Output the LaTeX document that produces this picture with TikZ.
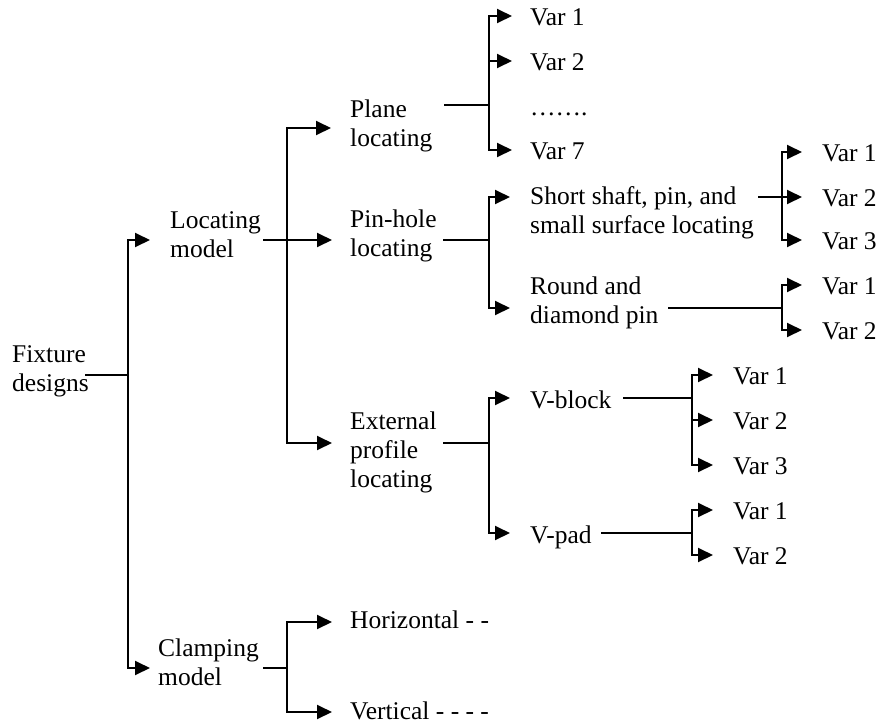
\documentclass[tikz,border=0pt]{standalone}
\usepackage{fontspec}
\setmainfont{Liberation Serif}
\usetikzlibrary{arrows.meta}
\begin{document}
\begin{tikzpicture}[x=1pt,y=-1pt,
  lbl/.style={anchor=base west,inner sep=0pt,align=left,font=\fontsize{25.5}{28.7}\selectfont},
  ln/.style={line width=1.9pt},
  arr/.style={ln,-{Triangle[length=15pt,width=14pt]}}]
\useasboundingbox (0,0) rectangle (881,723);
% ---- text nodes (y = baseline of last line)
\node[lbl] (fix) at (12,391) {Fixture\\designs};
\node[lbl] (loc) at (170,257) {Locating\\model};
\node[lbl] (clamp) at (158,685) {Clamping\\model};
\node[lbl] (plane) at (350,146) {Plane\\locating};
\node[lbl] (pin) at (350,256) {Pin-hole\\locating};
\node[lbl] (ext) at (350,487) {External\\profile\\locating};
\node[lbl] (horiz) at (350,628) {Horizontal - -};
\node[lbl] (vert) at (350,719) {Vertical - - - -};
\node[lbl] (short) at (530,233) {Short shaft, pin, and\\small surface locating};
\node[lbl] (round) at (530,323) {Round and\\diamond pin};
\node[lbl] (vblock) at (530,408) {V-block};
\node[lbl] (vpad) at (530,543) {V-pad};
\node[lbl] (pv1) at (530,25) {Var 1};
\node[lbl] (pv2) at (530,70) {Var 2};
\node[lbl] (pdots) at (530,115) {…….};
\node[lbl] (pv7) at (530,159) {Var 7};
\node[lbl] (sv1) at (822,161) {Var 1};
\node[lbl] (sv2) at (822,206) {Var 2};
\node[lbl] (sv3) at (822,249) {Var 3};
\node[lbl] (rv1) at (822,294) {Var 1};
\node[lbl] (rv2) at (822,339) {Var 2};
\node[lbl] (bv1) at (733,384) {Var 1};
\node[lbl] (bv2) at (733,429) {Var 2};
\node[lbl] (bv3) at (733,474) {Var 3};
\node[lbl] (dv1) at (733,519) {Var 1};
\node[lbl] (dv2) at (733,564) {Var 2};
% ---- connector points
\coordinate (fixout) at (85,375);   \coordinate (jfix) at (128,375);
\coordinate (locin) at (150,240);   \coordinate (locout) at (263,240);  \coordinate (jloc) at (287,240);
\coordinate (clampin) at (150,668); \coordinate (clampout) at (263,668); \coordinate (jcl) at (287,668);
\coordinate (planein) at (331,128); \coordinate (planeout) at (444,105); \coordinate (jpl) at (489,105);
\coordinate (pinin) at (332,240);   \coordinate (pinout) at (443,240);  \coordinate (jpin) at (489,240);
\coordinate (extin) at (332,443);   \coordinate (extout) at (443,443);  \coordinate (jext) at (489,443);
\coordinate (horizin) at (332,622); \coordinate (vertin) at (332,712);
\coordinate (shortin) at (510,197); \coordinate (shortout) at (758,197); \coordinate (jsh) at (782,197);
\coordinate (roundin) at (510,308); \coordinate (roundout) at (668,308); \coordinate (jrd) at (782,308);
\coordinate (vblockin) at (510,398); \coordinate (vblockout) at (623,398); \coordinate (jvb) at (692,398);
\coordinate (vpadin) at (510,533);  \coordinate (vpadout) at (601,533); \coordinate (jvp) at (692,533);
\coordinate (pv1in) at (512,16); \coordinate (pv2in) at (512,61); \coordinate (pv7in) at (512,150);
\coordinate (sv1in) at (802,152); \coordinate (sv2in) at (802,197); \coordinate (sv3in) at (802,240);
\coordinate (rv1in) at (802,285); \coordinate (rv2in) at (802,330);
\coordinate (bv1in) at (713,375); \coordinate (bv2in) at (713,420); \coordinate (bv3in) at (713,465);
\coordinate (dv1in) at (713,510); \coordinate (dv2in) at (713,555);
% ---- connectors
\draw[ln] (fixout) -- (jfix);
\draw[arr] (jfix) |- (locin);
\draw[arr] (jfix) |- (clampin);
\draw[arr] (locout) -- (pinin);
\draw[arr] (jloc) |- (planein);
\draw[arr] (jloc) |- (extin);
\draw[ln] (clampout) -- (jcl);
\draw[arr] (jcl) |- (horizin);
\draw[arr] (jcl) |- (vertin);
\draw[ln] (planeout) -- (jpl);
\draw[arr] (jpl) |- (pv1in);
\draw[arr] (jpl) |- (pv2in);
\draw[arr] (jpl) |- (pv7in);
\draw[ln] (pinout) -- (jpin);
\draw[arr] (jpin) |- (shortin);
\draw[arr] (jpin) |- (roundin);
\draw[ln] (extout) -- (jext);
\draw[arr] (jext) |- (vblockin);
\draw[arr] (jext) |- (vpadin);
\draw[arr] (shortout) -- (sv2in);
\draw[arr] (jsh) |- (sv1in);
\draw[arr] (jsh) |- (sv3in);
\draw[ln] (roundout) -- (jrd);
\draw[arr] (jrd) |- (rv1in);
\draw[arr] (jrd) |- (rv2in);
\draw[ln] (vblockout) -- (jvb);
\draw[arr] (jvb) |- (bv1in);
\draw[arr] (jvb) |- (bv2in);
\draw[arr] (jvb) |- (bv3in);
\draw[ln] (vpadout) -- (jvp);
\draw[arr] (jvp) |- (dv1in);
\draw[arr] (jvp) |- (dv2in);
\end{tikzpicture}
\end{document}
